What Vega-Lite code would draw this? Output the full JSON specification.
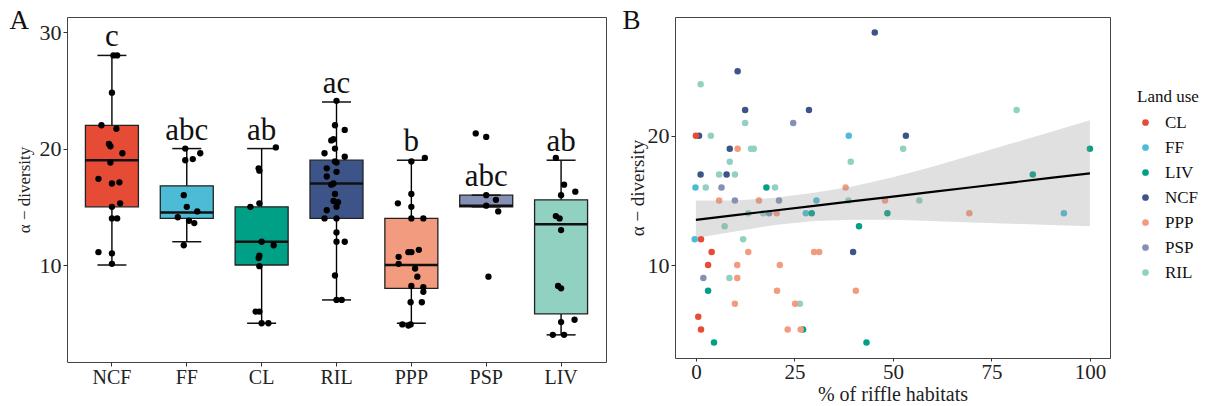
{
  "$schema": "https://vega.github.io/schema/vega-lite/v6.json",
  "padding": {"left": 8, "top": 5, "right": 5, "bottom": 5},
  "background": "white",
  "config": {
    "font": "Liberation Serif",
    "view": {"stroke": "#444", "strokeWidth": 1},
    "axis": {"grid": false, "domain": false, "labelFont": "Liberation Serif", "titleFont": "Liberation Serif", "labelFontSize": 20, "labelColor": "#222", "tickColor": "#333", "tickSize": 4, "labelPadding": 2, "titleFontWeight": "normal", "titleColor": "#222"},
    "legend": {"labelFont": "Liberation Serif", "titleFont": "Liberation Serif"}
  },
  "datasets": {
    "boxes": [
      {"land": "NCF", "lo": 10, "q1": 15, "med": 19, "q3": 22, "hi": 28, "letter": "c"},
      {"land": "FF", "lo": 12, "q1": 14, "med": 14.5, "q3": 16.8, "hi": 20, "letter": "abc"},
      {"land": "CL", "lo": 5, "q1": 10, "med": 12, "q3": 15, "hi": 20, "letter": "ab"},
      {"land": "RIL", "lo": 7, "q1": 14, "med": 17, "q3": 19, "hi": 24, "letter": "ac"},
      {"land": "PPP", "lo": 5, "q1": 8, "med": 10, "q3": 14, "hi": 19, "letter": "b"},
      {"land": "PSP", "lo": 15, "q1": 15, "med": 15.1, "q3": 16, "hi": 16, "letter": "abc"},
      {"land": "LIV", "lo": 4, "q1": 5.8, "med": 13.5, "q3": 15.6, "hi": 19, "letter": "ab"}
    ],
    "pts": [
      {"land": "NCF", "div": 28.0, "jit": 0.02}, {"land": "NCF", "div": 28.0, "jit": 0.07}, {"land": "NCF", "div": 24.8, "jit": 0},
      {"land": "NCF", "div": 22.0, "jit": -0.14}, {"land": "NCF", "div": 21.7, "jit": 0.06}, {"land": "NCF", "div": 20.4, "jit": -0.04},
      {"land": "NCF", "div": 20.2, "jit": -0.02}, {"land": "NCF", "div": 19.6, "jit": 0.14}, {"land": "NCF", "div": 18.8, "jit": -0.02},
      {"land": "NCF", "div": 17.4, "jit": -0.18}, {"land": "NCF", "div": 17.1, "jit": 0.10}, {"land": "NCF", "div": 17.0, "jit": 0},
      {"land": "NCF", "div": 15.3, "jit": 0.11}, {"land": "NCF", "div": 15.0, "jit": 0}, {"land": "NCF", "div": 14.0, "jit": 0},
      {"land": "NCF", "div": 14.0, "jit": 0.07}, {"land": "NCF", "div": 11.1, "jit": -0.18}, {"land": "NCF", "div": 11.0, "jit": 0},
      {"land": "NCF", "div": 10.1, "jit": 0},
      {"land": "FF", "div": 20.0, "jit": -0.02}, {"land": "FF", "div": 19.6, "jit": 0.18}, {"land": "FF", "div": 19.1, "jit": 0.08},
      {"land": "FF", "div": 19.0, "jit": -0.02}, {"land": "FF", "div": 16.0, "jit": -0.04}, {"land": "FF", "div": 15.0, "jit": 0},
      {"land": "FF", "div": 14.6, "jit": 0.14}, {"land": "FF", "div": 14.1, "jit": -0.12}, {"land": "FF", "div": 13.8, "jit": 0.03},
      {"land": "FF", "div": 13.6, "jit": 0.10}, {"land": "FF", "div": 11.7, "jit": -0.04},
      {"land": "CL", "div": 20.1, "jit": 0.19}, {"land": "CL", "div": 18.3, "jit": -0.04}, {"land": "CL", "div": 18.1, "jit": -0.03},
      {"land": "CL", "div": 15.3, "jit": -0.03}, {"land": "CL", "div": 15.0, "jit": -0.15}, {"land": "CL", "div": 12.0, "jit": 0},
      {"land": "CL", "div": 11.7, "jit": 0.16}, {"land": "CL", "div": 10.8, "jit": -0.03}, {"land": "CL", "div": 10.6, "jit": -0.04},
      {"land": "CL", "div": 9.9, "jit": -0.03}, {"land": "CL", "div": 6.0, "jit": -0.08}, {"land": "CL", "div": 6.0, "jit": -0.03},
      {"land": "CL", "div": 5.0, "jit": 0}, {"land": "CL", "div": 5.0, "jit": 0.09},
      {"land": "RIL", "div": 24.1, "jit": 0}, {"land": "RIL", "div": 22.0, "jit": -0.02}, {"land": "RIL", "div": 21.6, "jit": 0.11},
      {"land": "RIL", "div": 20.8, "jit": -0.04}, {"land": "RIL", "div": 20.7, "jit": -0.07}, {"land": "RIL", "div": 20.0, "jit": -0.02},
      {"land": "RIL", "div": 19.6, "jit": -0.16}, {"land": "RIL", "div": 19.3, "jit": 0.11}, {"land": "RIL", "div": 18.9, "jit": -0.02},
      {"land": "RIL", "div": 18.8, "jit": 0}, {"land": "RIL", "div": 18.3, "jit": -0.13}, {"land": "RIL", "div": 18.0, "jit": 0},
      {"land": "RIL", "div": 17.6, "jit": -0.13}, {"land": "RIL", "div": 17.0, "jit": -0.04}, {"land": "RIL", "div": 16.9, "jit": -0.07},
      {"land": "RIL", "div": 16.1, "jit": -0.02}, {"land": "RIL", "div": 15.5, "jit": -0.04}, {"land": "RIL", "div": 15.4, "jit": 0.02},
      {"land": "RIL", "div": 15.0, "jit": 0}, {"land": "RIL", "div": 14.7, "jit": -0.13}, {"land": "RIL", "div": 14.0, "jit": -0.16},
      {"land": "RIL", "div": 14.0, "jit": 0}, {"land": "RIL", "div": 12.8, "jit": 0}, {"land": "RIL", "div": 12.0, "jit": 0},
      {"land": "RIL", "div": 12.0, "jit": 0.11}, {"land": "RIL", "div": 9.1, "jit": -0.02}, {"land": "RIL", "div": 7.0, "jit": 0},
      {"land": "RIL", "div": 7.0, "jit": 0.07},
      {"land": "PPP", "div": 19.2, "jit": 0.18}, {"land": "PPP", "div": 18.9, "jit": 0}, {"land": "PPP", "div": 16.1, "jit": 0},
      {"land": "PPP", "div": 15.3, "jit": -0.18}, {"land": "PPP", "div": 15.0, "jit": 0}, {"land": "PPP", "div": 14.0, "jit": 0},
      {"land": "PPP", "div": 14.0, "jit": 0.16}, {"land": "PPP", "div": 11.3, "jit": 0.10}, {"land": "PPP", "div": 11.1, "jit": -0.04},
      {"land": "PPP", "div": 11.1, "jit": 0}, {"land": "PPP", "div": 10.7, "jit": -0.17}, {"land": "PPP", "div": 10.1, "jit": -0.17},
      {"land": "PPP", "div": 9.7, "jit": 0.05}, {"land": "PPP", "div": 9.0, "jit": 0.08}, {"land": "PPP", "div": 8.2, "jit": 0},
      {"land": "PPP", "div": 8.1, "jit": 0.16}, {"land": "PPP", "div": 7.7, "jit": 0.16}, {"land": "PPP", "div": 6.8, "jit": -0.01},
      {"land": "PPP", "div": 6.8, "jit": 0.14}, {"land": "PPP", "div": 4.9, "jit": -0.12}, {"land": "PPP", "div": 4.8, "jit": -0.04},
      {"land": "PPP", "div": 4.9, "jit": -0.01},
      {"land": "PSP", "div": 21.3, "jit": -0.14}, {"land": "PSP", "div": 21.0, "jit": 0}, {"land": "PSP", "div": 16.0, "jit": 0},
      {"land": "PSP", "div": 15.6, "jit": 0.13}, {"land": "PSP", "div": 15.1, "jit": 0}, {"land": "PSP", "div": 14.6, "jit": 0.16},
      {"land": "PSP", "div": 9.0, "jit": 0.03},
      {"land": "LIV", "div": 19.2, "jit": -0.07}, {"land": "LIV", "div": 16.9, "jit": 0.04}, {"land": "LIV", "div": 16.0, "jit": 0},
      {"land": "LIV", "div": 16.3, "jit": 0.19}, {"land": "LIV", "div": 14.2, "jit": -0.07}, {"land": "LIV", "div": 14.0, "jit": -0.02},
      {"land": "LIV", "div": 13.0, "jit": 0}, {"land": "LIV", "div": 8.2, "jit": -0.04}, {"land": "LIV", "div": 8.0, "jit": 0},
      {"land": "LIV", "div": 5.1, "jit": 0}, {"land": "LIV", "div": 5.3, "jit": 0.18}, {"land": "LIV", "div": 4.0, "jit": -0.11},
      {"land": "LIV", "div": 4.0, "jit": 0.04}
    ],
    "scatter": [
      {"land": "NCF", "riffle": 45.4, "div": 28}, {"land": "NCF", "riffle": 10.6, "div": 25}, {"land": "NCF", "riffle": 12.5, "div": 22},
      {"land": "NCF", "riffle": 28.7, "div": 22}, {"land": "NCF", "riffle": 0.8, "div": 20}, {"land": "NCF", "riffle": 53.3, "div": 20},
      {"land": "NCF", "riffle": 8.6, "div": 19}, {"land": "NCF", "riffle": 1.2, "div": 17}, {"land": "NCF", "riffle": 7.8, "div": 17},
      {"land": "NCF", "riffle": 39.9, "div": 11},
      {"land": "CL", "riffle": 0.0, "div": 20}, {"land": "CL", "riffle": 1.3, "div": 12}, {"land": "CL", "riffle": 4.0, "div": 11},
      {"land": "CL", "riffle": 3.1, "div": 10}, {"land": "CL", "riffle": 0.6, "div": 6}, {"land": "CL", "riffle": 1.3, "div": 5},
      {"land": "FF", "riffle": -0.1, "div": 16}, {"land": "FF", "riffle": -0.3, "div": 12}, {"land": "FF", "riffle": 38.8, "div": 20},
      {"land": "FF", "riffle": 30.6, "div": 15}, {"land": "FF", "riffle": 27.9, "div": 14}, {"land": "FF", "riffle": 93.4, "div": 14},
      {"land": "RIL", "riffle": 1.2, "div": 24}, {"land": "RIL", "riffle": 12.5, "div": 21}, {"land": "RIL", "riffle": 3.8, "div": 20},
      {"land": "RIL", "riffle": 14.0, "div": 19}, {"land": "RIL", "riffle": 14.7, "div": 19}, {"land": "RIL", "riffle": 52.6, "div": 19},
      {"land": "RIL", "riffle": 8.6, "div": 18}, {"land": "RIL", "riffle": 39.3, "div": 18}, {"land": "RIL", "riffle": 5.9, "div": 17},
      {"land": "RIL", "riffle": 9.9, "div": 17}, {"land": "RIL", "riffle": 2.5, "div": 16}, {"land": "RIL", "riffle": 20.1, "div": 16},
      {"land": "RIL", "riffle": 38.7, "div": 15}, {"land": "RIL", "riffle": 56.7, "div": 15}, {"land": "RIL", "riffle": 13.3, "div": 14},
      {"land": "RIL", "riffle": 17.1, "div": 14}, {"land": "RIL", "riffle": 7.3, "div": 13}, {"land": "RIL", "riffle": 12.0, "div": 12},
      {"land": "RIL", "riffle": 8.5, "div": 9}, {"land": "RIL", "riffle": 26.4, "div": 7}, {"land": "RIL", "riffle": 81.4, "div": 22},
      {"land": "LIV", "riffle": 17.9, "div": 16}, {"land": "LIV", "riffle": 29.4, "div": 14}, {"land": "LIV", "riffle": 48.6, "div": 14},
      {"land": "LIV", "riffle": 41.4, "div": 13}, {"land": "LIV", "riffle": 3.1, "div": 8}, {"land": "LIV", "riffle": 27.2, "div": 5},
      {"land": "LIV", "riffle": 4.6, "div": 4}, {"land": "LIV", "riffle": 43.3, "div": 4}, {"land": "LIV", "riffle": 85.5, "div": 17},
      {"land": "LIV", "riffle": 100.0, "div": 19},
      {"land": "PPP", "riffle": 10.6, "div": 19}, {"land": "PPP", "riffle": 38.0, "div": 16}, {"land": "PPP", "riffle": 5.9, "div": 15},
      {"land": "PPP", "riffle": 16.0, "div": 15}, {"land": "PPP", "riffle": 48.0, "div": 15}, {"land": "PPP", "riffle": 20.5, "div": 14},
      {"land": "PPP", "riffle": 69.4, "div": 14}, {"land": "PPP", "riffle": 13.3, "div": 11}, {"land": "PPP", "riffle": 30.0, "div": 11},
      {"land": "PPP", "riffle": 31.3, "div": 11}, {"land": "PPP", "riffle": 10.5, "div": 10}, {"land": "PPP", "riffle": 21.3, "div": 10},
      {"land": "PPP", "riffle": 10.5, "div": 9}, {"land": "PPP", "riffle": 20.6, "div": 8}, {"land": "PPP", "riffle": 40.6, "div": 8},
      {"land": "PPP", "riffle": 9.9, "div": 7}, {"land": "PPP", "riffle": 25.2, "div": 7}, {"land": "PPP", "riffle": 23.3, "div": 5},
      {"land": "PPP", "riffle": 26.6, "div": 5},
      {"land": "PSP", "riffle": 24.7, "div": 21}, {"land": "PSP", "riffle": 6.5, "div": 16}, {"land": "PSP", "riffle": 9.9, "div": 15},
      {"land": "PSP", "riffle": 21.1, "div": 15}, {"land": "PSP", "riffle": 18.6, "div": 14}, {"land": "PSP", "riffle": 1.9, "div": 9}
    ],
    "ci": [
      {"riffle": 0, "fit": 13.5, "lower": 12.1, "upper": 15.0},
      {"riffle": 10, "fit": 13.86, "lower": 12.6, "upper": 15.0},
      {"riffle": 20, "fit": 14.22, "lower": 13.1, "upper": 15.2},
      {"riffle": 30, "fit": 14.58, "lower": 13.4, "upper": 15.6},
      {"riffle": 40, "fit": 14.94, "lower": 13.5, "upper": 16.1},
      {"riffle": 50, "fit": 15.3, "lower": 13.5, "upper": 16.8},
      {"riffle": 60, "fit": 15.66, "lower": 13.4, "upper": 17.6},
      {"riffle": 70, "fit": 16.02, "lower": 13.3, "upper": 18.5},
      {"riffle": 80, "fit": 16.38, "lower": 13.2, "upper": 19.4},
      {"riffle": 90, "fit": 16.74, "lower": 13.1, "upper": 20.3},
      {"riffle": 100, "fit": 17.1, "lower": 13.0, "upper": 21.2}
    ]
  },
  "resolve": {"scale": {"color": "independent"}},
  "spacing": 14,
  "hconcat": [
    {
      "width": 539,
      "height": 345,
      "encoding": {
        "x": {"field": "land", "type": "nominal", "sort": ["NCF", "FF", "CL", "RIL", "PPP", "PSP", "LIV"], "scale": {"paddingInner": 0, "paddingOuter": 0.1},
          "axis": {"title": "A", "titleFontSize": 27, "titleColor": "#111", "titleAngle": 0, "titleAlign": "left", "titleBaseline": "alphabetic", "titleAnchor": "start", "titleX": -58, "titleY": -334, "labelAngle": 0, "labelPadding": 1}}
      },
      "layer": [
        {
          "data": {"name": "boxes"},
          "mark": {"type": "rule", "color": "black", "strokeWidth": 1.4},
          "encoding": {
            "y": {"field": "lo", "type": "quantitative", "scale": {"domain": [1.67, 31.3], "nice": false, "zero": false}, "axis": {"values": [10, 20, 30], "title": "α − diversity", "titleFontSize": 17, "titlePadding": 6, "labelFontSize": 22}},
            "y2": {"field": "hi"}
          }
        },
        {
          "data": {"name": "boxes"},
          "mark": {"type": "bar", "stroke": "#222", "strokeWidth": 1.3, "size": 53, "opacity": 1},
          "encoding": {
            "y": {"field": "q1", "type": "quantitative"},
            "y2": {"field": "q3"},
            "color": {"field": "land", "type": "nominal", "legend": null, "scale": {"domain": ["NCF", "FF", "CL", "RIL", "PPP", "PSP", "LIV"], "range": ["#E64B35", "#4DBBD5", "#00A087", "#3C5488", "#F39B7F", "#8491B4", "#91D1C2"]}}
          }
        },
        {
          "data": {"name": "boxes"},
          "mark": {"type": "tick", "color": "#111", "size": 53, "thickness": 2.5, "opacity": 1},
          "encoding": {"y": {"field": "med", "type": "quantitative"}}
        },
        {
          "data": {"name": "boxes"},
          "mark": {"type": "tick", "color": "#111", "size": 29, "thickness": 1.5, "opacity": 1},
          "encoding": {"y": {"field": "lo", "type": "quantitative"}}
        },
        {
          "data": {"name": "boxes"},
          "mark": {"type": "tick", "color": "#111", "size": 29, "thickness": 1.5, "opacity": 1},
          "encoding": {"y": {"field": "hi", "type": "quantitative"}}
        },
        {
          "data": {"name": "pts"},
          "mark": {"type": "circle", "color": "black", "size": 40, "opacity": 1},
          "encoding": {
            "y": {"field": "div", "type": "quantitative"},
            "xOffset": {"field": "jit", "type": "quantitative", "scale": {"domain": [-0.5, 0.5]}}
          }
        },
        {
          "data": {"name": "boxes"},
          "mark": {"type": "text", "font": "Liberation Serif", "fontSize": 31, "baseline": "alphabetic", "dy": -9, "color": "#111"},
          "encoding": {"y": {"field": "hi", "type": "quantitative"}, "text": {"field": "letter"}}
        }
      ]
    },
    {
      "width": 435,
      "height": 341,
      "resolve": {"axis": {"x": "independent"}},
      "layer": [
        {
          "data": {"name": "scatter"},
          "mark": {"type": "circle", "size": 42, "opacity": 1},
          "encoding": {
            "x": {"field": "riffle", "type": "quantitative", "scale": {"domain": [-5.3, 105.1], "nice": false, "zero": false}, "axis": {"values": [0, 25, 50, 75, 100], "title": "% of riffle habitats", "titleFontSize": 20, "titlePadding": 2, "labelFontSize": 21, "labelPadding": 0, "tickSize": 3}},
            "y": {"field": "div", "type": "quantitative", "scale": {"domain": [2.8, 29.2], "nice": false, "zero": false}, "axis": {"values": [10, 20], "title": "α − diversity", "titleFontSize": 19, "titlePadding": 0, "labelFontSize": 22}},
            "color": {"field": "land", "type": "nominal", "title": "Land use", "scale": {"domain": ["CL", "FF", "LIV", "NCF", "PPP", "PSP", "RIL"], "range": ["#E64B35", "#4DBBD5", "#00A087", "#3C5488", "#F39B7F", "#8491B4", "#91D1C2"]},
              "legend": {"orient": "none", "legendX": 462, "legendY": 72, "titleFontSize": 17, "titleFontWeight": "normal", "titleColor": "#111", "labelFontSize": 17, "labelColor": "#111", "symbolType": "circle", "symbolSize": 45, "symbolOffset": 0, "labelOffset": 11, "rowPadding": 7, "titlePadding": 8}}
          }
        },
        {
          "data": {"name": "ci"},
          "mark": {"type": "area", "color": "#999999", "opacity": 0.3},
          "encoding": {
            "x": {"field": "riffle", "type": "quantitative", "axis": {"orient": "top", "labels": false, "ticks": false, "domain": false, "title": "B", "titleFontSize": 27, "titleColor": "#111", "titleAngle": 0, "titleAlign": "left", "titleBaseline": "alphabetic", "titleAnchor": "start", "titleX": -53, "titleY": 11}},
            "y": {"field": "lower", "type": "quantitative"},
            "y2": {"field": "upper"}
          }
        },
        {
          "data": {"name": "ci"},
          "mark": {"type": "line", "color": "black", "strokeWidth": 2.2},
          "encoding": {
            "x": {"field": "riffle", "type": "quantitative", "axis": null},
            "y": {"field": "fit", "type": "quantitative"}
          }
        }
      ]
    }
  ]
}
